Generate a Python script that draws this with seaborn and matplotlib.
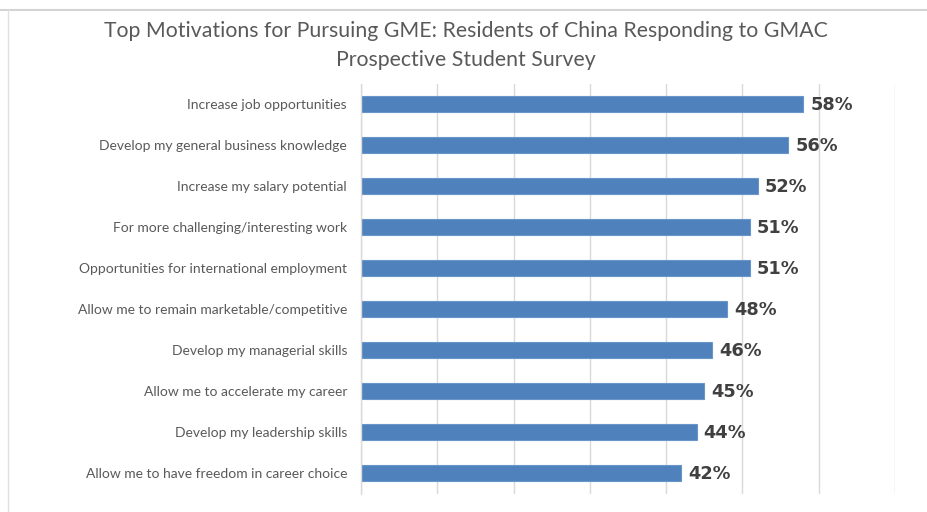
import matplotlib
matplotlib.use("Agg")
import matplotlib.pyplot as plt
import seaborn as sns
import pandas as pd
from matplotlib.lines import Line2D

categories = [
    "Increase job opportunities",
    "Develop my general business knowledge",
    "Increase my salary potential",
    "For more challenging/interesting work",
    "Opportunities for international employment",
    "Allow me to remain marketable/competitive",
    "Develop my managerial skills",
    "Allow me to accelerate my career",
    "Develop my leadership skills",
    "Allow me to have freedom in career choice",
]
values = [58, 56, 52, 51, 51, 48, 46, 45, 44, 42]
value_labels = ["58%", "56%", "52%", "51%", "51%", "48%", "46%", "45%", "44%", "42%"]
title = "Top Motivations for Pursuing GME: Residents of China Responding to GMAC\nProspective Student Survey"

df = pd.DataFrame({"category": categories, "value": values})

sns.set_theme(style="white")
plt.rcParams["font.family"] = ["Lato", "DejaVu Sans"]

fig = plt.figure(figsize=(9.28, 5.12), dpi=100)
fig.patch.set_facecolor("white")
ax = fig.add_axes([361 / 928, 1 - 493.5 / 512, (895 - 361) / 928, 410 / 512])

sns.barplot(data=df, x="value", y="category", orient="h", color="#4F81BD",
            saturation=1, width=0.37, edgecolor="#6A95C9", linewidth=0.8, ax=ax)

ax.set_xlim(0, 70)
ax.set_xticks(range(0, 71, 10))
ax.set_xticklabels([])
ax.tick_params(axis="x", length=0)
ax.tick_params(axis="y", length=0, pad=10, labelsize=10, labelcolor="#595959")
ax.xaxis.grid(True, color="#D9D9D9", linewidth=1)
ax.yaxis.grid(False)
ax.set_axisbelow(True)
ax.set_xlabel("")
ax.set_ylabel("")
for s in ["top", "right", "bottom"]:
    ax.spines[s].set_visible(False)
ax.spines["left"].set_color("#D9D9D9")
ax.spines["left"].set_linewidth(1)

for i, (v, lab) in enumerate(zip(values, value_labels)):
    ax.annotate(lab, xy=(v, i), xytext=(5, -0.8), textcoords="offset points",
                ha="left", va="center", fontsize=12.8, fontweight="bold",
                color="#404040", family=["DejaVu Sans"])

fig.text(466 / 928, 1 - 45.5 / 512, title, ha="center", va="center",
         fontsize=15.3, color="#595959", linespacing=1.55)

# spreadsheet background edges of the screenshot
fig.add_artist(Line2D([0, 1], [1 - 10 / 512, 1 - 10 / 512], transform=fig.transFigure,
                      color="#D4D4D4", linewidth=1.5))
fig.add_artist(Line2D([8 / 928, 8 / 928], [0, 1 - 10 / 512], transform=fig.transFigure,
                      color="#E0E0E0", linewidth=1))

fig.savefig("out.png", dpi=100, facecolor="white")
